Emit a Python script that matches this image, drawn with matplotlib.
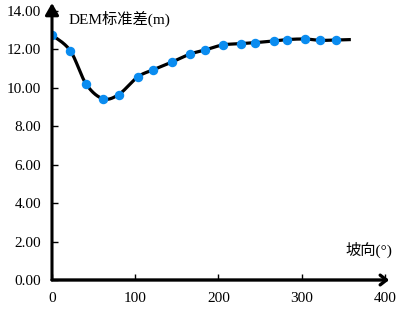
import numpy as np
import matplotlib
matplotlib.use("Agg")
from matplotlib import pyplot as plt

plt.rcParams['font.family'] = ['Liberation Serif', 'Noto Sans CJK SC']

# aspect (deg) vs DEM standard deviation (m)
aspect = [0, 22, 41, 61, 80, 103, 121, 144, 166, 184, 205, 227, 244, 267, 282, 304, 322, 341]
dem_std = [12.73, 11.91, 10.18, 9.42, 9.63, 10.55, 10.91, 11.32, 11.74, 11.95,
           12.21, 12.28, 12.33, 12.42, 12.49, 12.52, 12.45, 12.47]
# smoothed line continues a little past the last marker
line_end = (359, 12.49)

x_ticks = [0, 100, 200, 300, 400]
y_ticks = [0, 2, 4, 6, 8, 10, 12, 14]


def smooth(xs, ys, n=30):
    # Excel-style smoothed line: cubic bezier with 1/6 neighbour tangents
    p = np.column_stack([xs, ys]).astype(float)
    pp = np.vstack([p[0], p, p[-1]])
    out = []
    t = np.linspace(0, 1, n)[:, None]
    for i in range(1, len(pp) - 2):
        p0, p1 = pp[i], pp[i + 1]
        c1 = p0 + (pp[i + 1] - pp[i - 1]) / 6
        c2 = p1 - (pp[i + 2] - pp[i]) / 6
        seg = ((1 - t) ** 3) * p0 + 3 * ((1 - t) ** 2) * t * c1 + 3 * (1 - t) * t ** 2 * c2 + t ** 3 * p1
        out.append(seg)
    out = np.vstack(out)
    return out[:, 0], out[:, 1]


fig = plt.figure(figsize=(3.99, 3.11), dpi=100)
ax = fig.add_axes([52 / 399, 31 / 311, 341.3 / 399, 277 / 311])
xmax, ymax = 410, 14.39
ax.set_xlim(0, xmax)
ax.set_ylim(0, ymax)

lx, ly = smooth(aspect + [line_end[0]], dem_std + [line_end[1]])
ax.plot(lx, ly, color='black', lw=2.3, zorder=2, solid_capstyle='butt')
ax.plot(aspect, dem_std, 'o', color='#0A8CF0', markersize=5.8, zorder=3)

for s in ax.spines.values():
    s.set_visible(False)

# axes with arrow heads
ax.annotate('', xy=(0, ymax), xytext=(0, 0), xycoords='data',
            arrowprops=dict(arrowstyle='-|>,head_length=0.7,head_width=0.4',
                            color='black', lw=2.2, shrinkA=0, shrinkB=0), annotation_clip=False)
ax.annotate('', xy=(xmax - 5, 0), xytext=(0, 0), xycoords='data',
            arrowprops=dict(arrowstyle='->,head_length=0.45,head_width=0.35',
                            color='black', lw=2.4, shrinkA=0, shrinkB=0), annotation_clip=False)

ax.set_xticks(x_ticks)
ax.set_yticks(y_ticks)
ax.set_yticklabels([f"{v:.2f}" for v in y_ticks])
ax.tick_params(direction='in', length=4, width=1, labelsize=11, pad=8)
ax.tick_params(axis='x', pad=9)

ax.text(20, 13.55, 'DEM标准差(m)', fontsize=11, va='center', ha='left')
ax.text(xmax - 1, 1.58, '坡向(°)', fontsize=11, va='center', ha='right')

fig.savefig('out.png', dpi=100)
